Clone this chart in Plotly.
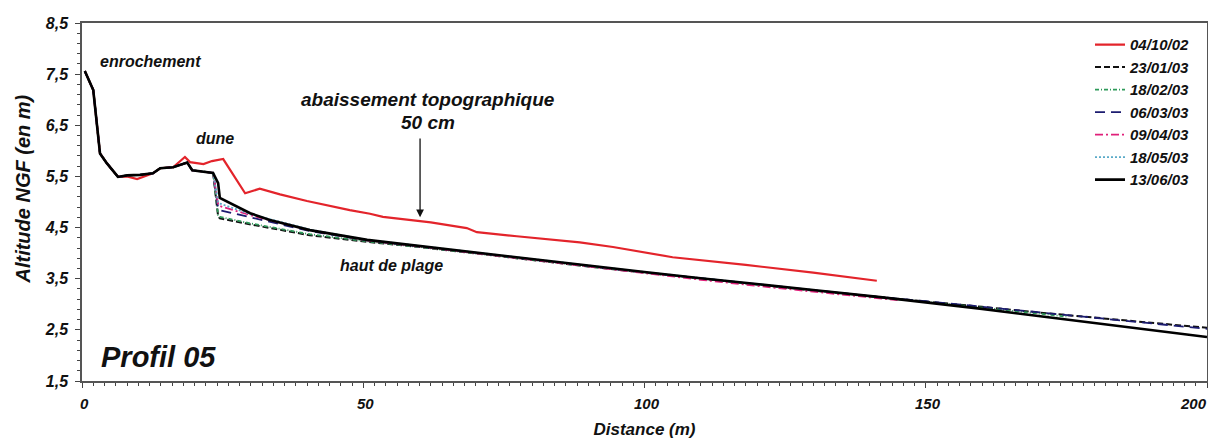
import plotly.graph_objects as go

# ---------------- data ----------------
dates = ["04/10/02", "23/01/03", "18/02/03", "06/03/03", "09/04/03", "18/05/03", "13/06/03"]

# common upper beach / rock armour part (shared by the 2003 surveys)
top_x = [0.5, 2, 3.2, 4.4, 6.4, 8, 10.3, 12.6, 13.9, 16.2, 18.7, 19.6, 23.3]
top_y = [7.56, 7.19, 5.95, 5.76, 5.49, 5.52, 5.53, 5.56, 5.66, 5.68, 5.77, 5.62, 5.57]

red_x = [0.5, 2, 3.2, 4.4, 6.4, 8, 9.8, 11, 12.6, 13.9, 16.2, 18.3, 19.2, 21.6, 23.1, 25.1,
         29, 31.6, 35.2, 40, 47.6, 51.2, 53.5, 59.7, 62, 68.4, 70.2, 77.3, 88.5, 94.4, 105,
         118, 130, 141.3]
red_y = [7.56, 7.19, 5.95, 5.76, 5.49, 5.50, 5.45, 5.50, 5.56, 5.66, 5.68, 5.88, 5.78, 5.74,
         5.80, 5.84, 5.17, 5.26, 5.15, 5.02, 4.84, 4.77, 4.71, 4.63, 4.60, 4.49, 4.41, 4.33,
         4.21, 4.12, 3.92, 3.77, 3.62, 3.46]

s2301_x = top_x + [24.2, 24.5, 30, 40.5, 50.7, 60, 70, 80, 90, 100, 110, 120, 130, 140, 150,
                   160, 170, 180, 190, 200]
s2301_y = top_y + [4.72, 4.68, 4.56, 4.35, 4.22, 4.12, 3.99, 3.87, 3.74, 3.62, 3.50, 3.39, 3.27,
                   3.16, 3.06, 2.95, 2.84, 2.74, 2.64, 2.54]

s1802_x = top_x + [24.2, 24.5, 30, 40.5, 50.7, 60, 70, 80, 90, 100, 110, 120, 130, 140, 150,
                   160, 175]
s1802_y = top_y + [4.74, 4.71, 4.58, 4.37, 4.23, 4.12, 3.99, 3.87, 3.74, 3.62, 3.50, 3.38, 3.26,
                   3.15, 3.05, 2.93, 2.76]

s0603_x = top_x + [24.2, 24.5, 30, 35, 40.5, 50.7, 60, 70, 80, 90, 100, 110, 120, 130, 140, 150,
                   160, 170, 180, 190, 200]
s0603_y = top_y + [4.88, 4.84, 4.70, 4.57, 4.43, 4.25, 4.13, 4.00, 3.87, 3.75, 3.62, 3.51, 3.39,
                   3.28, 3.16, 3.06, 2.95, 2.84, 2.73, 2.62, 2.52]

s0904_x = top_x + [24.2, 24.5, 30, 35, 40.5, 50.7, 60, 70, 80, 90, 100, 110, 120, 130, 145]
s0904_y = top_y + [4.95, 4.92, 4.74, 4.60, 4.45, 4.25, 4.13, 3.99, 3.86, 3.73, 3.60, 3.48, 3.36,
                   3.25, 3.08]

s1805_x = top_x + [24.2, 24.5, 30, 35, 40.5, 50.7, 60, 70, 80, 90, 100, 110, 120, 130]
s1805_y = top_y + [5.0, 4.97, 4.76, 4.62, 4.46, 4.26, 4.14, 4.01, 3.88, 3.76, 3.63, 3.51, 3.40,
                   3.28]

s1306_x = top_x + [24.2, 24.5, 29.9, 33.4, 40.5, 50.7, 60, 70, 80, 88.5, 100, 110, 120, 130,
                   141.9, 150, 160, 170, 180, 190, 200]
s1306_y = top_y + [5.37, 5.08, 4.78, 4.65, 4.45, 4.26, 4.14, 4.01, 3.88, 3.77, 3.63, 3.51, 3.40,
                   3.28, 3.14, 3.04, 2.91, 2.77, 2.63, 2.50, 2.36]

y_tickvals = [1.5, 2.5, 3.5, 4.5, 5.5, 6.5, 7.5, 8.5]
y_ticktext = ["1,5", "2,5", "3,5", "4,5", "5,5", "6,5", "7,5", "8,5"]
x_tickvals = [0, 50, 100, 150, 200]
x_ticktext = ["0", "50", "100", "150", "200"]

# ---------------- styles ----------------
FONT = "Liberation Sans, Arial, sans-serif"
INK = "#111111"


def bfont(size):
    return dict(family=FONT, size=size, color=INK, weight="bold", style="italic")


series = [
    (dates[0], red_x, red_y, "#e3242b", "solid", 2.2),
    (dates[1], s2301_x, s2301_y, "#111111", "6px,3px", 2),
    (dates[2], s1802_x, s1802_y, "#2e9a5a", "4px,2px,1px,2px", 1.8),
    (dates[3], s0603_x, s0603_y, "#1c1c70", "10px,6px", 1.8),
    (dates[4], s0904_x, s0904_y, "#e0207a", "8px,3px,2px,3px", 1.8),
    (dates[5], s1805_x, s1805_y, "#5aaac8", "2px,2px", 1.8),
    (dates[6], s1306_x, s1306_y, "#000000", "solid", 2.6),
]

fig = go.Figure()
for name, xs, ys, col, dash, w in series:
    fig.add_trace(go.Scatter(x=xs, y=ys, mode="lines", name=name,
                             line=dict(color=col, dash=dash, width=w)))

ann = []
ann.append(dict(x=12.2, y=7.74, text="enrochement", showarrow=False, font=bfont(16)))
ann.append(dict(x=23.6, y=6.25, text="dune", showarrow=False, font=bfont(16)))
ann.append(dict(x=61.5, y=7.01, text="abaissement topographique", showarrow=False,
                font=bfont(19)))
ann.append(dict(x=61.5, y=6.56, text="50 cm", showarrow=False, font=bfont(19)))
ann.append(dict(x=55.0, y=3.75, text="haut de plage", showarrow=False, font=bfont(16)))
ann.append(dict(x=60.1, y=4.70, ax=60.1, ay=6.27, axref="x", ayref="y", text="",
                showarrow=True, arrowhead=2, arrowsize=1.2, arrowwidth=1.3,
                arrowcolor=INK, standoff=0))
ann.append(dict(x=3.0, y=1.97, xanchor="left", text="Profil 05", showarrow=False,
                font=bfont(29)))
for a in ann:
    a.setdefault("xref", "x")
    a.setdefault("yref", "y")

# x tick labels, written under each tick value; the last one is kept inside the page
for i, (v, t) in enumerate(zip(x_tickvals, x_ticktext)):
    last = i == len(x_tickvals) - 1
    ann.append(dict(xref="x", yref="paper", x=v, y=0, yanchor="top", yshift=-12,
                    xanchor="right" if last else "center", xshift=2,
                    text=t, showarrow=False, font=bfont(15)))

# y-axis title (placed as rotated paper text, slightly above centre as in the original)
ann.append(dict(xref="paper", yref="paper", x=-0.0524, y=0.535, xanchor="center",
                yanchor="middle", text="Altitude NGF (en m)",
                textangle=-90, showarrow=False, font=bfont(20)))

# the page body has an 8px margin: the figure is sized and padded so that the
# plot frame lands on the same window pixels as the reference
fig.update_layout(
    width=1208, height=431,
    margin=dict(l=74, r=9, t=15, b=58, autoexpand=False),
    paper_bgcolor="white", plot_bgcolor="white",
    showlegend=True,
    legend=dict(x=0.896, y=0.985, xanchor="left", yanchor="top",
                font=bfont(15), bgcolor="rgba(0,0,0,0)", borderwidth=0, tracegroupgap=0),
    annotations=ann,
)
fig.update_xaxes(
    range=[0, 200], showgrid=False, zeroline=False, automargin=False,
    showline=True, linecolor="#555555", linewidth=1.5, mirror=True,
    tickmode="array", tickvals=x_tickvals, showticklabels=False,
    ticks="outside", ticklen=5, tickcolor="#444444",
    minor=dict(dtick=2, ticks="outside", ticklen=3, tickcolor="#444444", showgrid=False),
    title=dict(text="Distance (m)", standoff=36, font=bfont(17)),
)
fig.update_yaxes(
    range=[1.5, 8.5], showgrid=False, zeroline=False, automargin=False,
    showline=True, linecolor="#555555", linewidth=1.5, mirror=True,
    tickmode="array", tickvals=y_tickvals, ticktext=y_ticktext,
    ticks="outside", ticklen=5, tickcolor="#444444", ticklabelstandoff=4,
    minor=dict(dtick=0.2, tick0=1.5, ticks="outside", ticklen=3, tickcolor="#444444",
               showgrid=False),
    tickfont=bfont(16),
)

fig.write_html("out.html")
